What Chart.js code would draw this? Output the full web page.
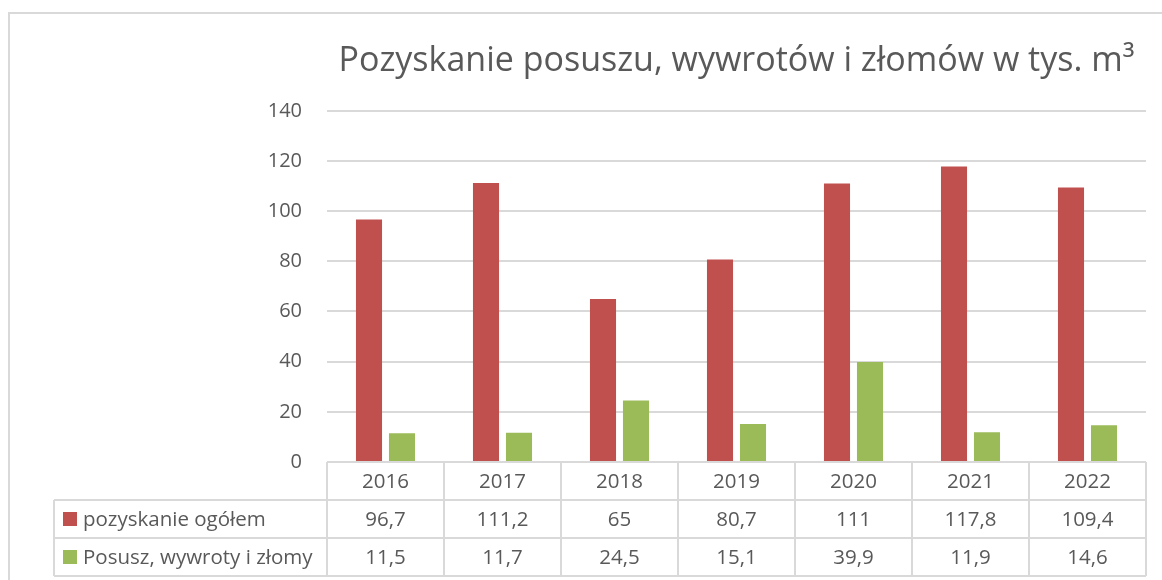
<!DOCTYPE html>
<html>
<head>
<meta charset="utf-8">
<script src="https://cdn.jsdelivr.net/npm/chart.js@4/dist/chart.umd.min.js"></script>
<style>
  html, body { margin: 0; padding: 0; background: #fff; }
  #wrap { width: 1162px; height: 580px; }
</style>
</head>
<body>
<div id="wrap"><canvas id="myChart" width="1162" height="580"></canvas></div>
<script>
const years = ['2016', '2017', '2018', '2019', '2020', '2021', '2022'];
const totalHarvest = [96.7, 111.2, 65, 80.7, 111, 117.8, 109.4];
const deadwood = [11.5, 11.7, 24.5, 15.1, 39.9, 11.9, 14.6];
const seriesNames = ['pozyskanie ogółem', 'Posusz, wywroty i złomy'];
const seriesColors = ['#C0504D', '#9BBB59'];

const FONT = '"Open Sans", sans-serif';
const TEXT = '#595959';
const LINE = '#d9d9d9';

const fmt = (v) => String(v).replace('.', ',');

// frame + data table under the bars
const dataTable = {
  id: 'dataTable',
  beforeDraw(chart) {
    const {ctx} = chart;
    ctx.save();
    ctx.strokeStyle = LINE;
    ctx.lineWidth = 2;
    ctx.strokeRect(9, 13, 1300, 700);
    ctx.restore();
  },
  afterDraw(chart) {
    const {ctx, chartArea: {left, right, bottom}, scales: {x}} = chart;
    const rowH = 38;
    const labelLeft = 54;
    const colW = (right - left) / years.length;
    const rows = [totalHarvest, deadwood];

    ctx.save();
    ctx.strokeStyle = LINE;
    ctx.lineWidth = 2;
    ctx.beginPath();
    // horizontal lines
    ctx.moveTo(left, bottom); ctx.lineTo(right, bottom);
    for (let r = 1; r <= 3; r++) {
      ctx.moveTo(labelLeft, bottom + rowH * r);
      ctx.lineTo(right, bottom + rowH * r);
    }
    // vertical lines
    ctx.moveTo(labelLeft, bottom + rowH); ctx.lineTo(labelLeft, bottom + rowH * 3);
    for (let i = 0; i <= years.length; i++) {
      const px = left + colW * i;
      ctx.moveTo(px, bottom); ctx.lineTo(px, bottom + rowH * 3);
    }
    ctx.stroke();

    ctx.fillStyle = TEXT;
    ctx.font = '20.5px ' + FONT;
    ctx.textAlign = 'center';
    ctx.textBaseline = 'middle';
    years.forEach((yr, i) => {
      const cx = x.getPixelForValue(i);
      ctx.fillText(yr, cx, bottom + rowH * 0.5 + 1);
      rows.forEach((vals, r) => {
        ctx.fillText(fmt(vals[i]), cx, bottom + rowH * (r + 1.5) + 1);
      });
    });

    ctx.textAlign = 'left';
    seriesNames.forEach((name, r) => {
      const cy = bottom + rowH * (r + 1.5);
      ctx.fillStyle = seriesColors[r];
      ctx.fillRect(63, cy - 7, 14, 14);
      ctx.fillStyle = TEXT;
      ctx.fillText(name, 83, cy + 1);
    });
    ctx.restore();
  }
};

const data = {
  labels: years,
  datasets: [{
    label: seriesNames[0],
    data: totalHarvest,
    backgroundColor: seriesColors[0],
    categoryPercentage: 0.564,
    barPercentage: 0.79
  }, {
    label: seriesNames[1],
    data: deadwood,
    backgroundColor: seriesColors[1],
    categoryPercentage: 0.564,
    barPercentage: 0.79
  }]
};

const config = {
  type: 'bar',
  data,
  options: {
    responsive: false,
    animation: false,
    layout: {
      padding: {top: 20, left: 10, right: 16, bottom: 118}
    },
    plugins: {
      legend: {display: false},
      tooltip: {enabled: false},
      title: {
        display: true,
        text: 'Pozyskanie posuszu, wywrotów i złomów w tys. m³',
        fullSize: false,
        color: TEXT,
        font: {family: FONT, size: 34, weight: 'normal'},
        padding: {top: 21, bottom: 29}
      }
    },
    scales: {
      x: {
        display: false
      },
      y: {
        min: 0,
        max: 140,
        ticks: {
          stepSize: 20,
          color: TEXT,
          padding: 25,
          font: {family: FONT, size: 20}
        },
        border: {display: false},
        grid: {
          color: LINE,
          lineWidth: 2,
          drawTicks: false
        },
        afterFit(scale) {
          scale.width = 317;
        }
      }
    }
  },
  plugins: [dataTable]
};

const myChart = new Chart(
  document.getElementById('myChart'),
  config
);
</script>
</body>
</html>
